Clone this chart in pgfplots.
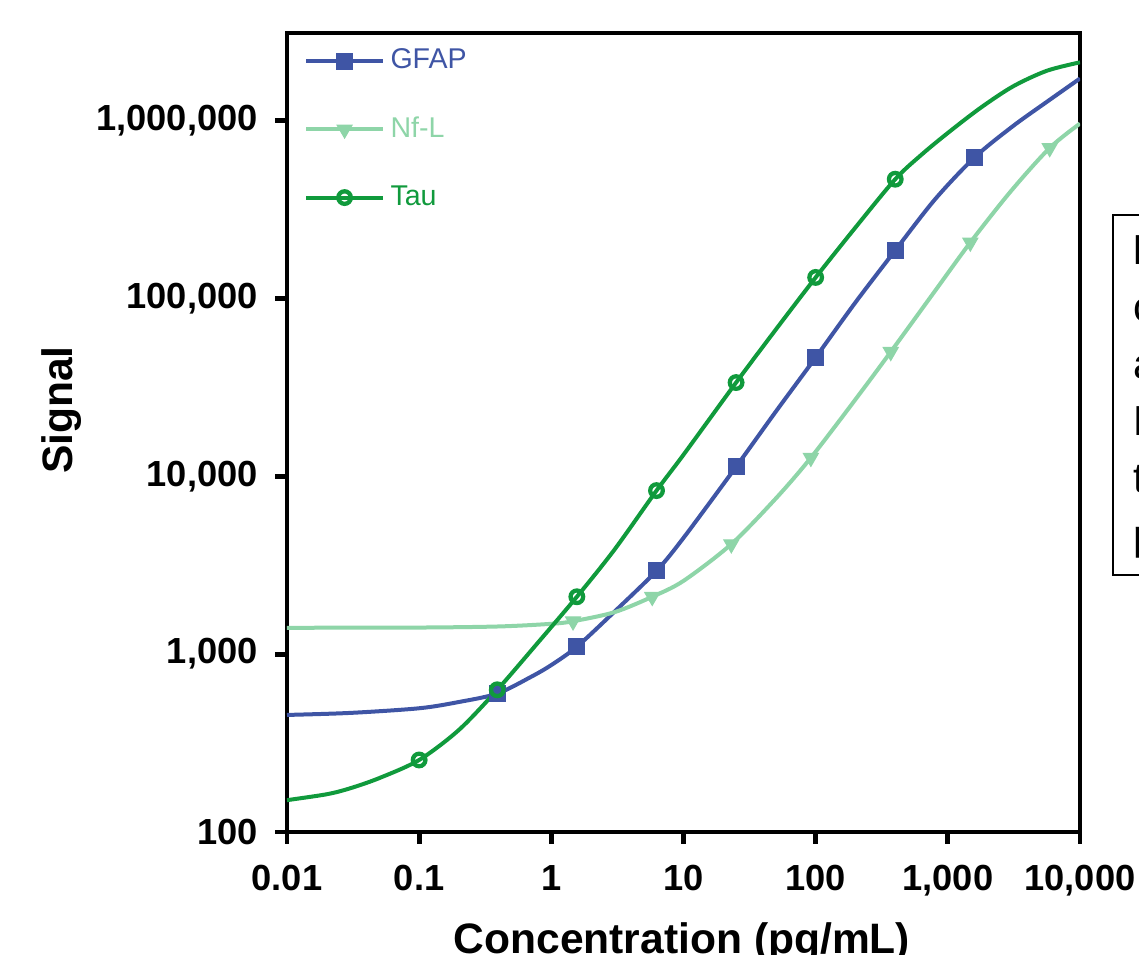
\documentclass[border=0pt]{standalone}
\usepackage{fontspec}
\setmainfont{Liberation Sans}
\usepackage{pgfplots}
\pgfplotsset{compat=1.18}
\definecolor{gfap}{HTML}{3F55A5}
\definecolor{nfl}{HTML}{8ED5A8}
\definecolor{tau}{HTML}{109A3C}

\begin{document}
\begin{tikzpicture}
\clip (-100.45pt,-43.05pt) rectangle (298.2pt,291.2pt);
\begin{axis}[
    scale only axis,
    width=277.55pt, height=279.65pt,
    xmode=log, ymode=log,
    xmin=0.01, xmax=10000,
    ymin=100, ymax=3.1e6,
    axis line style={line width=1.7pt},
    tick align=outside, tick pos=left,
    major tick length=4.2pt,
    major tick style={line width=1.7pt, black},
    minor tick style={draw=none},
    minor tick length=0pt,
    xtick={0.01,0.1,1,10,100,1000,10000},
    xticklabels={0.01,0.1,1,10,100,{1,000},{10,000}},
    ytick={100,1000,10000,100000,1000000},
    yticklabels={100,{1,000},{10,000},{100,000},{1,000,000}},
    ticklabel style={font=\bfseries\fontsize{12.7}{14}\selectfont},
    xticklabel style={yshift=-4pt},
    yticklabel style={xshift=-2.5pt},
    xlabel={Concentration (pg/mL)},
    ylabel={Signal},
    label style={font=\bfseries\fontsize{14.9}{16}\selectfont},
    xlabel style={at={(axis description cs:0.498,-0.139)}, anchor=center},
    ylabel style={at={(axis description cs:-0.2837,0.528)}, anchor=center},
    legend style={at={(rel axis cs:0.014,0.995)}, anchor=north west,
        draw=none, fill=none, inner sep=2pt, row sep=11.3pt,
        font=\fontsize{10}{11}\selectfont},
    legend cell align=left,
    legend image code/.code={
        \draw[#1, mark indices={2}] plot coordinates {(0cm,0cm) (0.47cm,0cm) (0.94cm,0cm)};
    },
]

% GFAP
\addplot[color=gfap, line width=1.4pt, smooth, mark=square*,
    mark size=2.8pt, mark options={solid, line width=0.4pt},
    mark indices={5,8,10,12,14,16,18}]
    coordinates {
    (0.01,455)(0.03,467)(0.1,496)(0.2,538)(0.39,600)(0.7,744)(1,868)
    (1.56,1100)(3,1730)(6.25,2940)(10,4500)(25,11300)(50,23100)
    (100,46500)(200,94800)(400,186000)(800,360000)(1600,621000)
    (3100,927000)(5600,1270000)(10000,1720000)
    };
\addlegendentry{\textcolor{gfap}{GFAP}}

% Nf-L
\addplot[color=nfl, line width=1.4pt, smooth, mark=triangle*,
    mark size=3pt, mark options={solid, rotate=180, line width=0.4pt},
    mark indices={5,7,9,11,13,15,17}]
    coordinates {
    (0.01,1406)(0.1,1410)(0.4,1430)(1,1480)(1.46,1530)(3,1720)
    (5.8,2100)(10,2580)(23,4150)(50,7500)(92,12700)(200,27000)
    (370,50000)(800,110000)(1480,206000)(3000,400000)(5900,700000)
    (10000,960000)
    };
\addlegendentry{\textcolor{nfl}{Nf-L}}

% Tau
\addplot[color=tau, line width=1.4pt, smooth, mark=o,
    mark size=2.2pt, mark options={solid, line width=1.5pt},
    mark indices={5,7,9,11,13,15,17}]
    coordinates {
    (0.01,151)(0.02,163)(0.03,176)(0.05,201)(0.1,254)(0.2,375)(0.39,630)
    (0.8,1170)(1.56,2100)(3,3860)(6.25,8300)(10,13200)(25,33600)
    (50,66800)(100,131000)(200,250000)(400,467000)(630,640000)
    (1000,850000)(1750,1170000)(3100,1550000)(5600,1900000)(10000,2120000)
    };
\addlegendentry{\textcolor{tau}{Tau}}
\end{axis}

% caption box cut off at the right edge
\draw[line width=0.5pt] (289.1pt,89.95pt) rectangle (420pt,215.95pt);
\begin{scope}[every node/.style={anchor=base west, inner sep=0pt,
    font=\fontsize{14.7}{16}\selectfont}]
\node at (296.1pt,198.45pt) {\bfseries Figure 1};
\node at (296.1pt,178.5pt) {calibration};
\node at (296.1pt,158.55pt) {and};
\node at (296.1pt,138.6pt) {Nf-L};
\node at (296.1pt,118.65pt) {the};
\node at (296.1pt,98.7pt) {pg/mL};
\end{scope}
\end{tikzpicture}
\end{document}
